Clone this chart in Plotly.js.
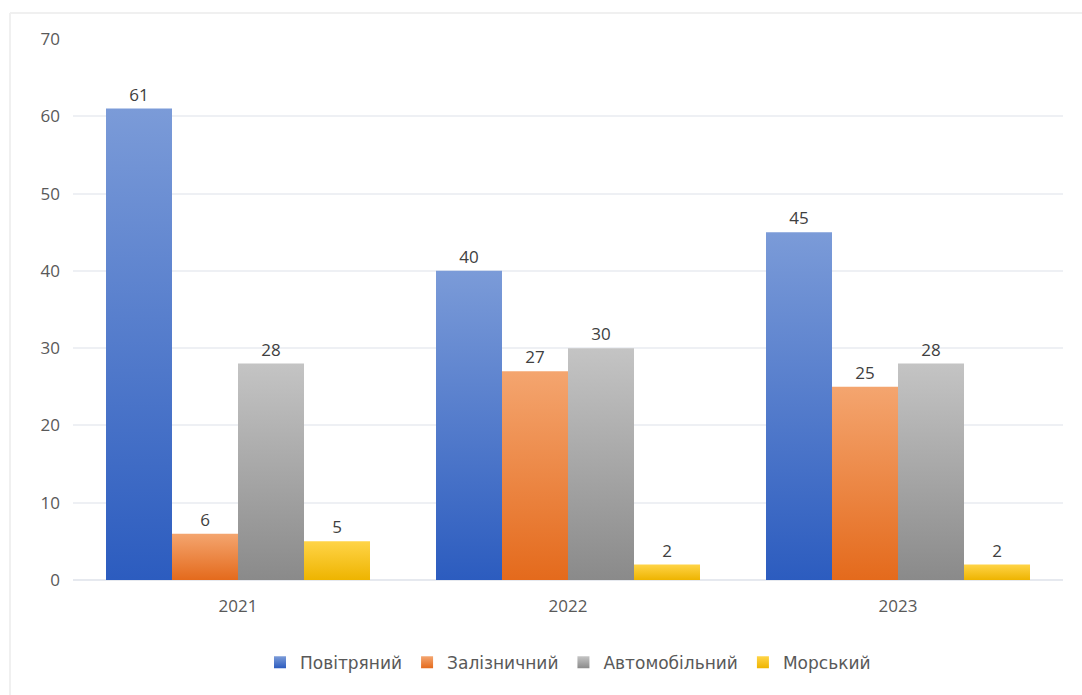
<!DOCTYPE html>
<html>
<head>
<meta charset="utf-8">
<script src="https://cdn.plot.ly/plotly-3.0.1.min.js"></script>
<style>
html,body{margin:0;padding:0;background:#fff;}
#chart{width:1082px;height:695px;}
</style>
</head>
<body>
<div id="chart"></div>
<script>
const years = ['2021', '2022', '2023'];
const seriesNames = ['Повітряний', 'Залізничний', 'Автомобільний', 'Морський'];
const air = [61, 40, 45];
const rail = [6, 27, 25];
const road = [28, 30, 28];
const sea = [5, 2, 2];
const yTicks = [0, 10, 20, 30, 40, 50, 60, 70];

const seriesValues = [air, rail, road, sea];
const baseColors = ['#4472c4', '#ed7d31', '#a5a5a5', '#ffc000'];
const gradTop = ['#7b9bd8', '#f4a56f', '#c4c4c4', '#ffd447'];
const gradBot = ['#2c5cbf', '#e46a1c', '#8a8a8a', '#eeb400'];

const traces = seriesNames.map((name, i) => ({
  type: 'bar',
  name: name,
  x: years,
  y: seriesValues[i],
  text: seriesValues[i].map(String),
  textposition: 'outside',
  cliponaxis: false,
  textfont: {family: 'Open Sans, sans-serif', size: 17, color: '#404040'},
  marker: {color: baseColors[i], line: {width: 0}},
  hoverinfo: 'none'
}));

const layout = {
  width: 1082,
  height: 695,
  margin: {l: 73, r: 19, t: 39, b: 115},
  paper_bgcolor: '#ffffff',
  plot_bgcolor: '#ffffff',
  barmode: 'group',
  bargap: 0.2,
  bargroupgap: 0,
  showlegend: true,
  legend: {
    orientation: 'h',
    x: 0.5, xanchor: 'center',
    y: -0.153, yanchor: 'middle',
    font: {family: 'DejaVu Sans, sans-serif', size: 17, color: '#595959'},
    itemwidth: 30,
    traceorder: 'normal'
  },
  font: {family: 'Open Sans, sans-serif', color: '#595959'},
  xaxis: {
    type: 'category',
    tickfont: {size: 17, color: '#595959'},
    showgrid: false,
    zeroline: false,
    showline: false,
    ticks: '',
    ticklen: 0,
    ticklabelstandoff: 14
  },
  yaxis: {
    range: [0, 70],
    tickvals: yTicks,
    ticktext: yTicks.map(String),
    tickfont: {size: 17, color: '#595959'},
    gridcolor: '#eef0f4',
    gridwidth: 2,
    zeroline: true,
    zerolinecolor: '#e6e9ef',
    zerolinewidth: 2,
    showline: false,
    ticks: '',
    ticklabelstandoff: 12
  },
  shapes: [
    {type: 'line', xref: 'paper', yref: 'paper', x0: -0.0636, x1: 1.03, y0: 1.048, y1: 1.048,
     line: {color: '#f0f0f0', width: 2}},
    {type: 'line', xref: 'paper', yref: 'paper', x0: -0.0636, x1: -0.0636, y0: 1.048, y1: -0.3,
     line: {color: '#f0f0f0', width: 2}}
  ]
};

Plotly.newPlot('chart', traces, layout, {displayModeBar: false, staticPlot: true}).then(gd => {
  const svg = gd.querySelector('svg.main-svg');
  const ns = 'http://www.w3.org/2000/svg';
  let defs = svg.querySelector('defs');
  if (!defs) { defs = document.createElementNS(ns, 'defs'); svg.insertBefore(defs, svg.firstChild); }
  baseColors.forEach((c, i) => {
    const lg = document.createElementNS(ns, 'linearGradient');
    lg.setAttribute('id', 'bargrad' + i);
    lg.setAttribute('x1', '0'); lg.setAttribute('y1', '0');
    lg.setAttribute('x2', '0'); lg.setAttribute('y2', '1');
    const s1 = document.createElementNS(ns, 'stop');
    s1.setAttribute('offset', '0'); s1.setAttribute('stop-color', gradTop[i]);
    const s2 = document.createElementNS(ns, 'stop');
    s2.setAttribute('offset', '1'); s2.setAttribute('stop-color', gradBot[i]);
    lg.appendChild(s1); lg.appendChild(s2);
    defs.appendChild(lg);
  });
  const traceGroups = gd.querySelectorAll('.barlayer .trace.bars');
  traceGroups.forEach((g, i) => {
    g.querySelectorAll('path').forEach(p => { p.style.fill = 'url(#bargrad' + i + ')'; });
  });
  gd.querySelectorAll('.legend .traces').forEach((t, i) => {
    t.querySelectorAll('.legendpoints path').forEach(p => {
      p.style.fill = 'url(#bargrad' + i + ')';
    });
  });
});
</script>
</body>
</html>
